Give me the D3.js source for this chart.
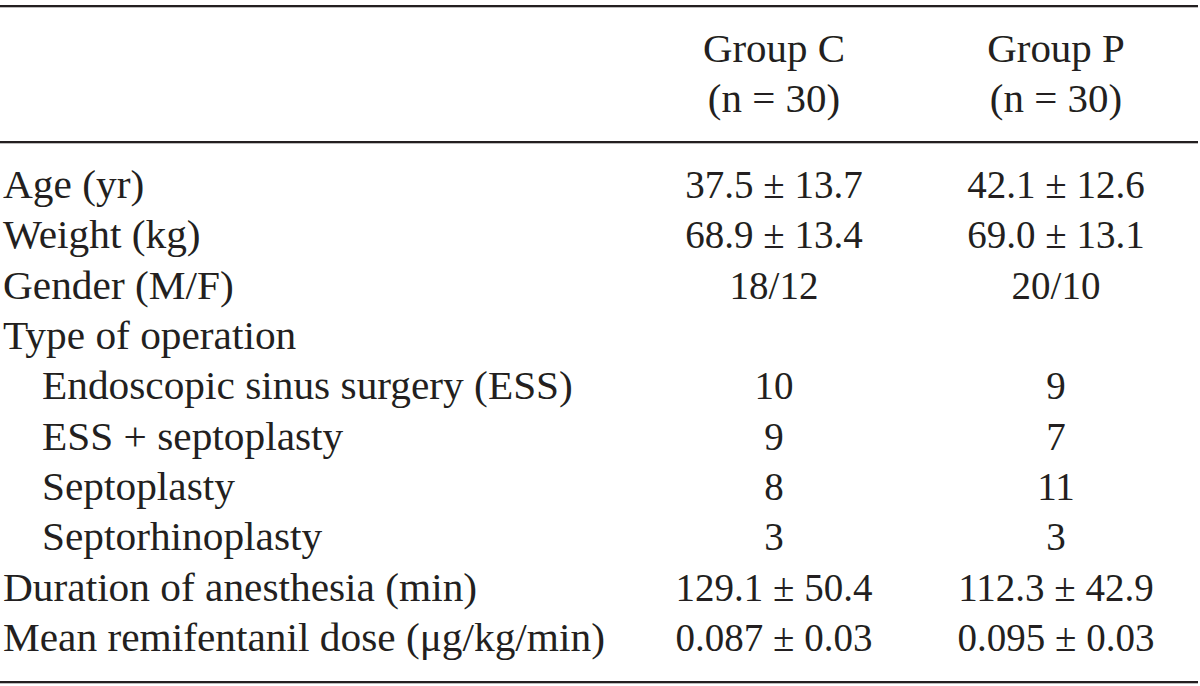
<!DOCTYPE html>
<html><head><meta charset="utf-8">
<script src="https://cdn.jsdelivr.net/npm/d3@7"></script>
<style>body{margin:0;background:#fff}</style>
</head><body><svg id="c" width="1200" height="686"></svg>
<script>
const headers = [["Group C","(n = 30)"],["Group P","(n = 30)"]];
const rowLabels = ["Age (yr)","Weight (kg)","Gender (M/F)","Type of operation","Endoscopic sinus surgery (ESS)","ESS + septoplasty","Septoplasty","Septorhinoplasty","Duration of anesthesia (min)","Mean remifentanil dose (\u03bcg/kg/min)"];
const indented = [false,false,false,false,true,true,true,true,false,false];
const groupC = ["37.5 \u00b1 13.7","68.9 \u00b1 13.4","18/12","","10","9","8","3","129.1 \u00b1 50.4","0.087 \u00b1 0.03"];
const groupP = ["42.1 \u00b1 12.6","69.0 \u00b1 13.1","20/10","","9","7","11","3","112.3 \u00b1 42.9","0.095 \u00b1 0.03"];

const svg = d3.select("#c");
const font = "'Liberation Serif','Times New Roman',serif";
const fs = 39;
const y = d3.scalePoint().domain(d3.range(rowLabels.length)).range([198, 651]);
const colX = d3.scaleOrdinal().domain([0,1]).range([774, 1056]);

function line(yy){ svg.append("rect").attr("x",0).attr("y",yy).attr("width",1198).attr("height",2.3).attr("fill","#231f20"); }
line(5); line(141); line(681);

const g = svg.append("g").attr("font-family",font).attr("font-size",fs).attr("fill","#231f20");
function txt(x, yy, t, anchor, stretch){
  const el = g.append("text").attr("x",x).attr("y",yy).attr("text-anchor",anchor).text(t);
  if (t) {
    const L = el.node().getComputedTextLength();
    el.attr("textLength", L*stretch).attr("lengthAdjust","spacingAndGlyphs");
  }
  return el;
}
headers.forEach((h,i)=>{
  h.forEach((t,j)=> txt(colX(i), [62,112][j], t, "middle", 1.05));
});
rowLabels.forEach((t,i)=>{
  txt(indented[i]?42:3, y(i), t, "start", 1.06);
  txt(colX(0), y(i), groupC[i], "middle", 1.0);
  txt(colX(1), y(i), groupP[i], "middle", 1.0);
});
</script></body></html>
